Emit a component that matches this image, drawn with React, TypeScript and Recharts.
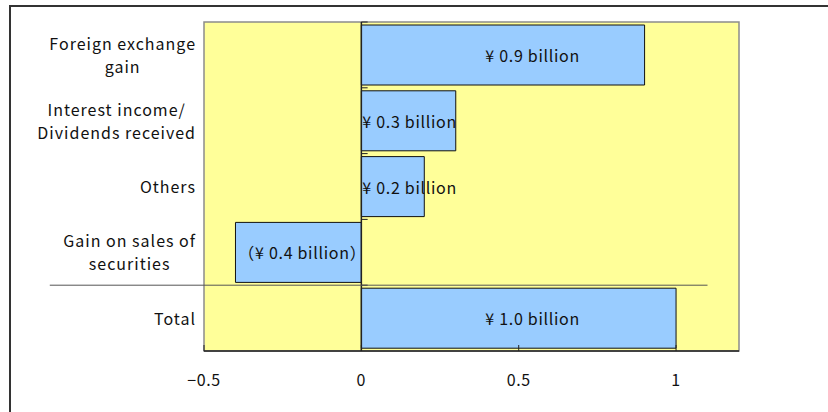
import React from 'react';
import { BarChart, Bar, XAxis, YAxis, ReferenceArea, ReferenceLine, LabelList } from 'recharts';

// non-operating income breakdown (billions of yen)
const categories = [
  'Foreign exchange\ngain',
  'Interest income/\nDividends received',
  'Others',
  'Gain on sales of\nsecurities',
  'Total',
];
const amounts = [0.9, 0.3, 0.2, -0.4, 1.0];
const xTicks = [-0.5, 0, 0.5, 1];
const xDomain: [number, number] = [-0.5, 1.2];

const data = categories.map((name, i) => ({ name, amount: amounts[i] }));

const FONT = '"Noto Sans CJK JP", "Noto Sans", sans-serif';
const TEXT = '#111';
// the rule above the total, in axis units
const RULE_FROM = -0.99;
const RULE_TO = 1.1;
const TOTAL = categories[categories.length - 1];
// short marks on the zero line between the items
const NOTCH = 0.02;

const fmtTick = (v: number) => (v < 0 ? '\u2212' + Math.abs(v) : String(v));
const fmtLabel = (v: number) =>
  v < 0 ? `\uff08¥ ${Math.abs(v).toFixed(1)} billion\uff09` : `¥ ${v.toFixed(1)} billion`;

const XTick = (props: any) => {
  const { x, y, payload } = props;
  return (
    <g>
      <line x1={x} x2={x} y1={y - 6} y2={y} stroke="#222" strokeWidth={1} />
      <text
        x={x}
        y={y + 28}
        textAnchor="middle"
        dominantBaseline="central"
        fontSize={16}
        letterSpacing={0.6}
        fontFamily={FONT}
        fill={TEXT}
      >
        {fmtTick(payload.value)}
      </text>
    </g>
  );
};

const YTick = (props: any) => {
  const { x, y, payload } = props;
  const lines = String(payload.value).split('\n');
  return (
    <foreignObject x={0} y={y - 30} width={x - 8} height={60}>
      <div
        style={{
          width: '100%',
          height: '100%',
          display: 'flex',
          alignItems: 'center',
          justifyContent: 'flex-end',
          fontFamily: FONT,
          fontSize: 16,
          letterSpacing: '1px',
          lineHeight: '23px',
          color: TEXT,
        }}
      >
        <div style={{ textAlign: 'center', whiteSpace: 'nowrap' }}>
          {lines.map((l, i) => (
            <div key={i}>{l}</div>
          ))}
        </div>
      </div>
    </foreignObject>
  );
};

const BarValueLabel = (props: any) => {
  const { x, y, width, height, value } = props;
  const left = Math.min(x, x + width);
  const right = Math.max(x, x + width);
  const span = right - left;
  let tx = left + 1;
  let anchor: 'start' | 'end' = 'start';
  if (value < 0) {
    // the full-width bracket carries its own trailing space
    tx = right + 5;
    anchor = 'end';
  } else if (span > 150) {
    tx = left + 124;
  }
  return (
    <text
      x={tx}
      y={y + height / 2}
      textAnchor={anchor}
      dominantBaseline="central"
      fontSize={16}
      letterSpacing={0.7}
      fontFamily={FONT}
      fill={TEXT}
    >
      {fmtLabel(value)}
    </text>
  );
};

export default function App() {
  return (
    <div style={{ position: 'absolute', left: 0, top: 0, width: 828, height: 412, overflow: 'hidden', background: '#fff' }}>
      <div
        style={{
          position: 'absolute',
          left: 9,
          top: 5,
          width: 840,
          height: 430,
          border: '2px solid #333',
          boxSizing: 'border-box',
        }}
      />
      <div style={{ position: 'absolute', left: 0, top: 0 }}>
        <BarChart
          layout="vertical"
          width={828}
          height={412}
          data={data}
          margin={{ top: 22, right: 89, bottom: 0, left: 0 }}
        >
          <XAxis
            type="number"
            domain={xDomain}
            ticks={xTicks}
            allowDataOverflow
            height={61}
            tickSize={0}
            tickMargin={0}
            tickLine={false}
            axisLine={{ stroke: '#222', strokeWidth: 1.5 }}
            tick={<XTick />}
          />
          <YAxis
            type="category"
            dataKey="name"
            width={204}
            tickSize={0}
            tickMargin={0}
            tickLine={false}
            axisLine={false}
            tick={<YTick />}
          />
          <ReferenceArea
            x1={xDomain[0]}
            x2={xDomain[1]}
            fill="#FFFF99"
            fillOpacity={1}
            stroke="#8c8c8c"
            strokeWidth={1.5}
          />
          <Bar dataKey="amount" fill="#99CCFF" stroke="#111" strokeWidth={1} barSize={60} isAnimationActive={false}>
            <LabelList dataKey="amount" content={<BarValueLabel />} />
          </Bar>
          <ReferenceLine x={0} stroke="#222" strokeWidth={1.5} />
          {categories.map((c) => (
            <ReferenceLine
              key={c}
              position="start"
              segment={[
                { x: 0, y: c },
                { x: NOTCH, y: c },
              ]}
              stroke="#222"
              strokeWidth={1}
            />
          ))}
          <ReferenceLine
            ifOverflow="visible"
            position="start"
            segment={[
              { x: RULE_FROM, y: TOTAL },
              { x: RULE_TO, y: TOTAL },
            ]}
            stroke="#555"
            strokeWidth={1}
          />
        </BarChart>
      </div>
    </div>
  );
}
